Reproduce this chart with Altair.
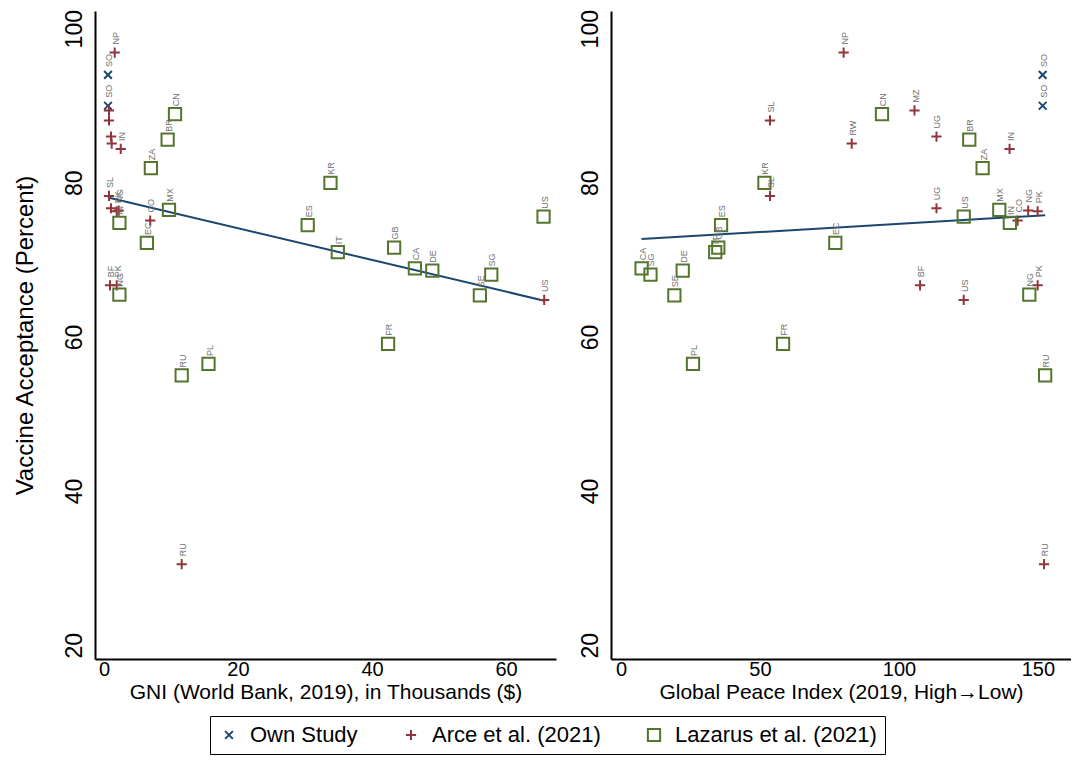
import altair as alt
import pandas as pd

# ---------------- data ----------------
sources = ["Own Study", "Arce et al. (2021)", "Lazarus et al. (2021)"]

own_code = ["SO", "SO"]
own_acc = [94.0, 90.0]
own_gni = [0.6, 0.6]
own_gpi = [151.7, 151.7]
own_show_left = [True, True]

arce_code = ["NP", "MZ", "SL", "UG", "RW", "IN", "SL", "UG", "NG", "PK", "CO", "BF", "US", "PK", "RU"]
arce_acc = [96.9, 89.4, 88.1, 86.0, 85.1, 84.4, 78.3, 76.7, 76.4, 76.3, 75.1, 66.7, 64.8, 66.7, 30.5]
arce_gni = [1.6, 0.75, 0.75, 1.05, 1.15, 2.5, 0.75, 1.05, 2.2, 1.9, 6.9, 0.9, 65.7, 1.9, 11.6]
arce_gpi = [80.1, 105.6, 53.6, 113.5, 83.0, 139.8, 53.6, 113.5, 146.5, 149.9, 142.7, 107.6, 123.3, 149.9, 152.2]
arce_show_left = [True, False, False, False, False, True, True, False, True, True, True, True, True, True, True]

laz_code = ["CN", "BR", "ZA", "MX", "EC", "IN", "NG", "KR", "ES", "IT", "GB", "CA", "DE", "SE", "SG", "US", "FR", "RU", "PL"]
laz_acc = [88.9, 85.6, 81.9, 76.5, 72.2, 74.8, 65.5, 80.0, 74.5, 71.0, 71.6, 68.9, 68.6, 65.4, 68.1, 75.6, 59.1, 55.0, 56.5]
laz_gni = [10.6, 9.5, 7.0, 9.7, 6.4, 2.3, 2.3, 33.8, 30.4, 34.9, 43.3, 46.4, 49.0, 56.1, 57.8, 65.6, 42.4, 11.6, 15.6]
laz_gpi = [93.9, 125.3, 130.1, 136.1, 77.1, 139.9, 146.9, 51.6, 36.0, 33.9, 35.0, 7.4, 22.2, 19.2, 10.6, 123.3, 58.3, 152.6, 25.9]
laz_show_left = [True] * 19

y_ticks = [20, 40, 60, 80, 100]
gni_ticks = [0, 20, 40, 60]
gpi_ticks = [0, 50, 100, 150]

# ---------------- build table ----------------
rows = []
def add(src, codes, acc, gni, gpi, show):
    for c, a, g, p, s in zip(codes, acc, gni, gpi, show):
        rows.append({"source": src, "code": c, "acc": a, "gni": g, "gpi": p,
                     "code_left": c if s else ""})

add(sources[0], own_code, own_acc, own_gni, own_gpi, own_show_left)
add(sources[1], arce_code, arce_acc, arce_gni, arce_gpi, arce_show_left)
add(sources[2], laz_code, laz_acc, laz_gni, laz_gpi, laz_show_left)
df = pd.DataFrame(rows)

FONT = "Liberation Sans"
colors = ["#1a476f", "#90353b", "#55752f"]
shapes = ["M-1,-1L1,1M-1,1L1,-1", "M-1,0L1,0M0,-1L0,1", "square"]
sizes = [60, 150, 125]

PAD_L, PAD_T = 5, 1

legend = alt.Legend(
    title=None, orient="none", direction="horizontal",
    legendX=115, legendY=714 - 8 - PAD_T,
    strokeColor="black", fillColor="white", padding=8,
    labelFontSize=22, labelFont=FONT, labelColor="black", labelLimit=0,
    symbolSize=120, symbolStrokeWidth=2, columnPadding=42, labelOffset=10,
)
color = alt.Color("source:N", scale=alt.Scale(domain=sources, range=colors), legend=legend)
shape = alt.Shape("source:N", scale=alt.Scale(domain=sources, range=shapes), legend=legend)
size = alt.Size("source:N", scale=alt.Scale(domain=sources, range=sizes), legend=None)

Y_DOM = [18.2, 102.3]


def panel(xfield, xdom, xvals, xtitle, width, ytitle, label_field):
    base = alt.Chart(df)
    x = alt.X(f"{xfield}:Q", scale=alt.Scale(domain=xdom, nice=False, zero=False),
              axis=alt.Axis(values=xvals, title=xtitle))
    yaxis = alt.Axis(values=y_ticks, title=ytitle)
    y = alt.Y("acc:Q", scale=alt.Scale(domain=Y_DOM, nice=False, zero=False), axis=yaxis)
    fit = base.transform_regression(xfield, "acc").mark_line(
        color="#1a476f", strokeWidth=2).encode(x=x, y=y)
    pts = base.mark_point(filled=False, strokeWidth=2, opacity=1).encode(
        x=x, y=y, color=color, shape=shape, size=size)
    txt = base.mark_text(angle=270, align="left", baseline="middle", dx=8, dy=1,
                         fontSize=9, color="#707070", font=FONT).encode(
        x=x, y=y, text=f"{label_field}:N")
    return alt.layer(fit, pts, txt).properties(width=width, height=648)


left = panel("gni", [-1.34, 67.46], gni_ticks, "GNI (World Bank, 2019), in Thousands ($)",
             461, "Vaccine Acceptance (Percent)", "code_left")
right = panel("gpi", [-3.6, 161.9], gpi_ticks, "Global Peace Index (2019, High\u2192Low)",
              460, None, "code")

chart = alt.hconcat(left, right, spacing=22).properties(
    padding={"left": PAD_L, "top": PAD_T, "right": 0, "bottom": 0}
).configure_view(stroke=None).configure_axis(
    grid=False, ticks=False, tickSize=0, domainColor="black", domainWidth=2,
    labelFont=FONT, titleFont=FONT, labelFontSize=20, titleFontSize=21,
    labelColor="black", titleColor="black", titleFontWeight="normal",
).configure_axisY(
    labelAngle=270, labelAlign="center", labelBaseline="bottom",
    labelFontSize=23, titleFontSize=24,
    labelPadding=9, titlePadding=26,
).configure_axisX(
    labelPadding=0, titlePadding=2,
)

chart.save("out.html", embed_options={"renderer": "svg", "actions": False})
